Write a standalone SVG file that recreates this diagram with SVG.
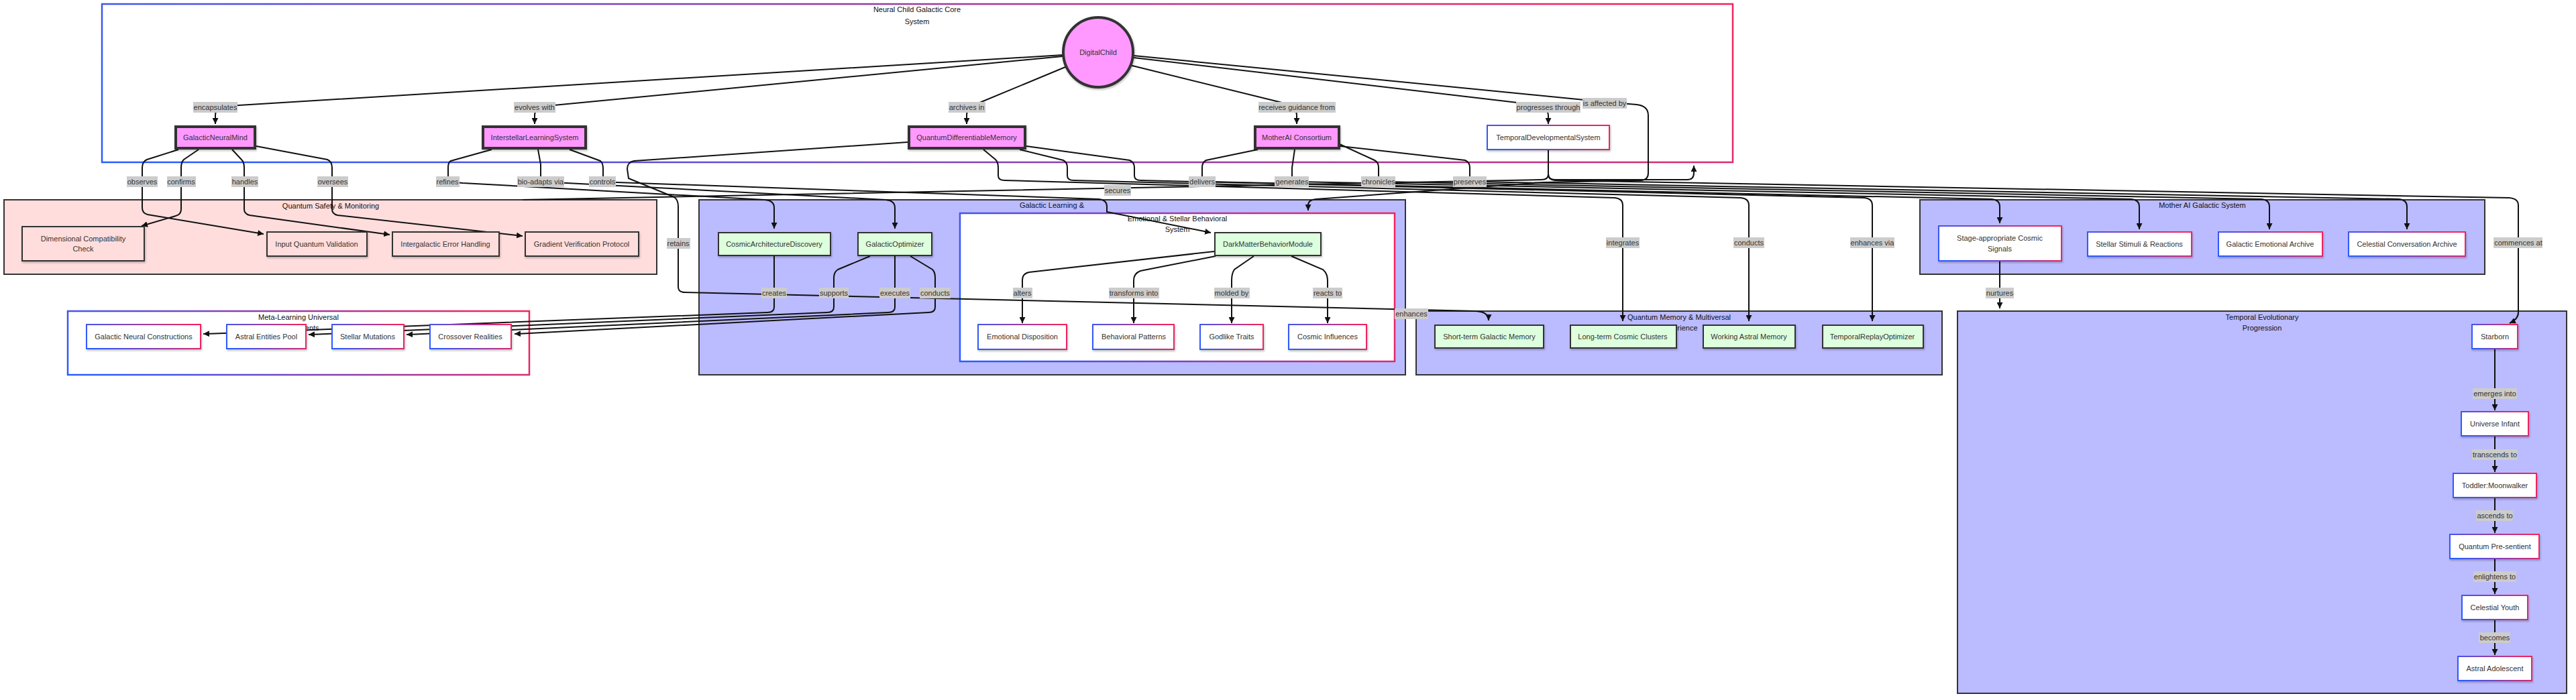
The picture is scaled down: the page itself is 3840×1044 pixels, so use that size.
<svg xmlns="http://www.w3.org/2000/svg" width="3840" height="1044" viewBox="0 0 3840 1044">
<defs>
<linearGradient id="g" x1="0" y1="0.6" x2="1" y2="0.4">
<stop offset="0" stop-color="#2c5cff"/>
<stop offset="0.5" stop-color="#8a3fb0"/>
<stop offset="1" stop-color="#f2245c"/>
</linearGradient>
<marker id="arr" viewBox="0 0 10 10" refX="10" refY="5" markerWidth="9" markerHeight="9" markerUnits="userSpaceOnUse" orient="auto">
<path d="M0,0 L10,5 L0,10 z" fill="#111"/>
</marker>
<filter id="sh" x="-10%" y="-10%" width="130%" height="150%">
<feDropShadow dx="1" dy="2" stdDeviation="1.5" flood-color="#000" flood-opacity="0.25"/>
</filter>
<style>
text { font-family: "Liberation Sans", Arial, sans-serif; font-size: 11px; fill: #333; }
.c { text-anchor: middle; dominant-baseline: central; }
.t { text-anchor: middle; dominant-baseline: central; fill: #111; }
.edge { fill: none; stroke: #111; stroke-width: 2; }
.ah { marker-end: url(#arr); }
.lbl rect { fill: #cccccc; }
.pink { fill: #ff99ff; stroke: #333; stroke-width: 4; filter: url(#sh); }
.green { fill: #ddffdd; stroke: #333; stroke-width: 2; filter: url(#sh); }
.safe { fill: #ffdddd; stroke: #333; stroke-width: 2; filter: url(#sh); }
.grad { fill: #fff; stroke: url(#g); stroke-width: 2; filter: url(#sh); }
.clg { fill: #fff; stroke: url(#g); stroke-width: 2.5; }
.clb { fill: #bbbbff; stroke: #333; stroke-width: 2; }
.clr { fill: #ffdddd; stroke: #333; stroke-width: 2; }
</style>
</defs>
<rect x="0" y="0" width="3840" height="1044" fill="#fff"/>

<g id="clusters">
<g id="cluster-core"><rect class="clg" x="152" y="6" width="2431" height="236"/><text class="t" x="1367" y="14">Neural Child Galactic Core</text><text class="t" x="1367" y="32">System</text></g>
<g id="cluster-safety"><rect class="clr" x="6" y="298" width="973" height="111"/><text class="t" x="493" y="307">Quantum Safety &amp; Monitoring</text></g>
<g id="cluster-meta"><rect class="clg" x="101" y="464" width="688" height="95"/><text class="t" x="445" y="473">Meta-Learning Universal</text><text class="t" x="445" y="489">Experiments</text></g>
<g id="cluster-learning"><rect class="clb" x="1042" y="298" width="1053" height="261"/><text class="t" x="1568" y="306">Galactic Learning &amp;</text></g>
<g id="cluster-emotional"><rect class="clg" x="1431" y="318" width="648" height="221"/><text class="t" x="1755" y="326">Emotional &amp; Stellar Behavioral</text><text class="t" x="1755" y="342">System</text></g>
<g id="cluster-memory"><rect class="clb" x="2111" y="464" width="784" height="95"/><text class="t" x="2503" y="473">Quantum Memory &amp; Multiversal</text><text class="t" x="2503" y="489">Experience</text></g>
<g id="cluster-mother"><rect class="clb" x="2862" y="298" width="842" height="111"/><text class="t" x="3283" y="306">Mother AI Galactic System</text></g>
<g id="cluster-temporal"><rect class="clb" x="2918" y="464" width="908" height="570"/><text class="t" x="3372" y="473">Temporal Evolutionary</text><text class="t" x="3372" y="489">Progression</text></g>
</g>

<g id="connectors">
<path class="edge ah" d="M1584,82 L340,158 Q321,159 321,172 L321,185"/>
<path class="edge ah" d="M1584,84 L815,158 Q797,160 797,172 L797,185"/>
<path class="edge ah" d="M1588,100 L1458,154 Q1441,160 1441,172 L1441,185"/>
<path class="edge ah" d="M1684,97 L1915,154 Q1933,160 1933,172 L1933,185"/>
<path class="edge ah" d="M1690,86 L2270,154 Q2308,158 2308,172 L2308,185"/>
<path class="edge ah" d="M1690,83 L2392,152 L2440,156 Q2457,158 2457,172 L2457,258 Q2457,268 2447,269 L2300,272 L1962,297 Q1950,298 1950,306 L1950,314"/>

<path class="edge ah" d="M266,223 L219,238 Q212,241 212,250 L212,310 Q212,318 220,320 L393,349"/>
<path class="edge ah" d="M296,223 L274,238 Q270,242 270,250 L270,312 Q270,320 262,322 L211,337"/>
<path class="edge ah" d="M346,223 L360,238 Q364,242 364,250 L364,312 Q364,319 372,321 L581,350"/>
<path class="edge ah" d="M382,218 L488,238 Q495,241 495,250 L495,312 Q495,319 503,321 L779,352"/>

<path class="edge ah" d="M733,223 L672,240 Q668,242 668,250 L668,271 L690,273 L1140,298 Q1154,299 1154,310 L1154,341"/>
<path class="edge ah" d="M802,223 L806,245 L806,271 L845,273 L1320,298 Q1334,299 1334,310 L1334,341"/>
<path class="edge ah" d="M849,223 L895,240 Q899,243 899,252 L899,271 L920,272 L1638,297 Q1650,298 1650,308 L1650,316 L1805,347"/>

<path class="edge ah" d="M1353,212 L945,240 Q935,242 935,252 L937,266 L1005,294 Q1011,298 1011,308 L1011,428 Q1011,436 1021,436 L2200,464 Q2219,465 2219,478"/>
<path class="edge ah" d="M1466,223 L1484,238 Q1488,242 1488,250 L1488,262 Q1488,269 1498,269 L2407,295 Q2419,296 2419,306 L2419,479"/>
<path class="edge ah" d="M1520,223 L1585,239 Q1591,242 1591,250 L1591,262 Q1591,269 1601,269 L2595,295 Q2607,296 2607,306 L2607,479"/>
<path class="edge ah" d="M1530,218 L1684,239 Q1691,242 1691,250 L1691,262 Q1691,269 1701,269 L2779,295 Q2791,296 2791,306 L2791,479"/>

<path class="edge ah" d="M1875,223 L1798,239 Q1792,242 1792,250 L1792,264 Q1792,271 1802,271 L2969,297 Q2981,298 2981,308 L2981,333"/>
<path class="edge ah" d="M1930,223 L1926,250 L1926,264 Q1926,271 1936,271 L3177,297 Q3189,298 3189,308 L3189,342"/>
<path class="edge ah" d="M1997,215 L2049,239 Q2055,242 2055,250 L2055,264 Q2055,271 2065,271 L3371,297 Q3383,298 3383,308 L3383,342"/>
<path class="edge ah" d="M1998,218 L2184,239 Q2191,242 2191,250 L2191,264 Q2191,271 2201,271 L3576,297 Q3588,298 3588,308 L3588,342"/>

<path class="edge ah" d="M2308,223 L2308,260 Q2308,268 2318,268 L2515,268 Q2525,268 2525,258 L2525,247"/>
<path class="edge ah" d="M2308,223 L2308,260 Q2308,268 2318,269 L3740,295 Q3754,296 3754,306 L3754,466 Q3754,476 3741,482"/>
<path class="edge" d="M2308,223 L2308,260 Q2308,268 2298,268 L779,298"/>
<path class="edge ah" d="M2981,389 L2981,460"/>

<path class="edge ah" d="M1154,382 L1154,458 Q1154,466 1144,466 L320,497.5 L303,498"/>
<path class="edge ah" d="M1297,382 L1249,402 Q1243,406 1243,414 L1243,458 Q1243,466 1233,466 L475,498.5 L460,499"/>
<path class="edge ah" d="M1334,382 L1334,458 Q1334,466 1324,466 L620,498.5 L606,499"/>
<path class="edge ah" d="M1357,382 L1390,402 Q1394,406 1394,414 L1394,458 Q1394,466 1384,466 L780,497.5 L767,498"/>

<path class="edge ah" d="M1810,375 L1534,406 Q1524,408 1524,418 L1524,482"/>
<path class="edge ah" d="M1812,382 L1700,404 Q1690,408 1690,418 L1690,482"/>
<path class="edge ah" d="M1869,382 L1840,402 Q1836,408 1836,418 L1836,482"/>
<path class="edge ah" d="M1925,382 L1972,402 Q1979,408 1979,418 L1979,482"/>

<path class="edge ah" d="M3719,520 L3719,612"/>
<path class="edge ah" d="M3719,650 L3719,704"/>
<path class="edge ah" d="M3719,742 L3719,795"/>
<path class="edge ah" d="M3719,833 L3719,886"/>
<path class="edge ah" d="M3719,924 L3719,977"/>

<g id="edge-labels" class="lbl">
<g><rect x="288" y="152" width="66" height="16"/><text class="c" x="321" y="160">encapsulates</text></g>
<g><rect x="766" y="152" width="62" height="16"/><text class="c" x="797" y="160">evolves with</text></g>
<g><rect x="1414" y="152" width="55" height="16"/><text class="c" x="1441" y="160">archives in</text></g>
<g><rect x="1876" y="152" width="115" height="16"/><text class="c" x="1933" y="160">receives guidance from</text></g>
<g><rect x="2260" y="152" width="96" height="16"/><text class="c" x="2308" y="160">progresses through</text></g>
<g><rect x="2359" y="146" width="66" height="16"/><text class="c" x="2392" y="154">is affected by</text></g>
<g><rect x="189" y="263" width="46" height="16"/><text class="c" x="212" y="271">observes</text></g>
<g><rect x="249" y="263" width="43" height="16"/><text class="c" x="270" y="271">confirms</text></g>
<g><rect x="345" y="263" width="40" height="16"/><text class="c" x="365" y="271">handles</text></g>
<g><rect x="473" y="263" width="46" height="16"/><text class="c" x="496" y="271">oversees</text></g>
<g><rect x="650" y="263" width="35" height="16"/><text class="c" x="667" y="271">refines</text></g>
<g><rect x="771" y="263" width="70" height="16"/><text class="c" x="806" y="271">bio-adapts via</text></g>
<g><rect x="878" y="263" width="40" height="16"/><text class="c" x="898" y="271">controls</text></g>
<g><rect x="1772" y="263" width="40" height="16"/><text class="c" x="1792" y="271">delivers</text></g>
<g><rect x="1900" y="263" width="51" height="16"/><text class="c" x="1926" y="271">generates</text></g>
<g><rect x="2029" y="263" width="51" height="16"/><text class="c" x="2055" y="271">chronicles</text></g>
<g><rect x="2166" y="263" width="50" height="16"/><text class="c" x="2191" y="271">preserves</text></g>
<g><rect x="1646" y="276" width="40" height="16"/><text class="c" x="1666" y="284">secures</text></g>
<g><rect x="994" y="355" width="35" height="16"/><text class="c" x="1011" y="363">retains</text></g>
<g><rect x="2394" y="354" width="50" height="16"/><text class="c" x="2419" y="362">integrates</text></g>
<g><rect x="2584" y="354" width="46" height="16"/><text class="c" x="2607" y="362">conducts</text></g>
<g><rect x="2758" y="354" width="66" height="16"/><text class="c" x="2791" y="362">enhances via</text></g>
<g><rect x="3717" y="354" width="73" height="16"/><text class="c" x="3754" y="362">commences at</text></g>
<g><rect x="1135" y="429" width="38" height="16"/><text class="c" x="1154" y="437">creates</text></g>
<g><rect x="1221" y="429" width="44" height="16"/><text class="c" x="1243" y="437">supports</text></g>
<g><rect x="1311" y="429" width="46" height="16"/><text class="c" x="1334" y="437">executes</text></g>
<g><rect x="1371" y="429" width="46" height="16"/><text class="c" x="1394" y="437">conducts</text></g>
<g><rect x="1510" y="429" width="29" height="16"/><text class="c" x="1524" y="437">alters</text></g>
<g><rect x="1653" y="429" width="75" height="16"/><text class="c" x="1690" y="437">transforms into</text></g>
<g><rect x="1810" y="429" width="53" height="16"/><text class="c" x="1836" y="437">molded by</text></g>
<g><rect x="1957" y="429" width="44" height="16"/><text class="c" x="1979" y="437">reacts to</text></g>
<g><rect x="2079" y="460" width="50" height="16"/><text class="c" x="2104" y="468">enhances</text></g>
<g><rect x="2960" y="429" width="42" height="16"/><text class="c" x="2981" y="437">nurtures</text></g>
<g><rect x="3686" y="579" width="66" height="16"/><text class="c" x="3719" y="587">emerges into</text></g>
<g><rect x="3685" y="670" width="68" height="16"/><text class="c" x="3719" y="678">transcends to</text></g>
<g><rect x="3691" y="761" width="55" height="16"/><text class="c" x="3719" y="769">ascends to</text></g>
<g><rect x="3687" y="852" width="64" height="16"/><text class="c" x="3719" y="860">enlightens to</text></g>
<g><rect x="3695" y="943" width="47" height="16"/><text class="c" x="3719" y="951">becomes</text></g>
</g>
</g>

<g id="nodes">
<g id="DigitalChild"><circle class="pink" cx="1637" cy="78" r="52"/><text class="c" x="1637" y="78">DigitalChild</text></g>
<g id="GalacticNeuralMind"><rect class="pink" x="262" y="189" width="118" height="32"/><text class="c" x="321" y="205">GalacticNeuralMind</text></g>
<g id="InterstellarLearningSystem"><rect class="pink" x="720" y="189" width="153" height="32"/><text class="c" x="797" y="205">InterstellarLearningSystem</text></g>
<g id="QuantumDifferentiableMemory"><rect class="pink" x="1355" y="189" width="173" height="32"/><text class="c" x="1441" y="205">QuantumDifferentiableMemory</text></g>
<g id="MotherAI"><rect class="pink" x="1871" y="189" width="125" height="32"/><text class="c" x="1933" y="205">MotherAI Consortium</text></g>
<g id="TemporalDevelopmentalSystem"><rect class="grad" x="2217" y="187" width="182" height="36"/><text class="c" x="2308" y="205">TemporalDevelopmentalSystem</text></g>

<g id="DimensionalCheck"><rect class="safe" x="33" y="338" width="182" height="51"/><text class="c" x="124" y="356">Dimensional Compatibility</text><text class="c" x="124" y="371">Check</text></g>
<g id="InputValidation"><rect class="safe" x="398" y="346" width="149" height="36"/><text class="c" x="472" y="364">Input Quantum Validation</text></g>
<g id="ErrorHandling"><rect class="safe" x="585" y="346" width="159" height="36"/><text class="c" x="664" y="364">Intergalactic Error Handling</text></g>
<g id="GradientVerification"><rect class="safe" x="783" y="346" width="169" height="36"/><text class="c" x="867" y="364">Gradient Verification Protocol</text></g>

<g id="GalacticNeuralConstructions"><rect class="grad" x="129" y="484" width="170" height="36"/><text class="c" x="214" y="502">Galactic Neural Constructions</text></g>
<g id="AstralEntitiesPool"><rect class="grad" x="338" y="484" width="118" height="36"/><text class="c" x="397" y="502">Astral Entities Pool</text></g>
<g id="StellarMutations"><rect class="grad" x="495" y="484" width="107" height="36"/><text class="c" x="548" y="502">Stellar Mutations</text></g>
<g id="CrossoverRealities"><rect class="grad" x="641" y="484" width="121" height="36"/><text class="c" x="701" y="502">Crossover Realities</text></g>

<g id="CosmicArchitectureDiscovery"><rect class="green" x="1071" y="347" width="167" height="34"/><text class="c" x="1154" y="364">CosmicArchitectureDiscovery</text></g>
<g id="GalacticOptimizer"><rect class="green" x="1279" y="347" width="110" height="34"/><text class="c" x="1334" y="364">GalacticOptimizer</text></g>
<g id="DarkMatterBehaviorModule"><rect class="green" x="1811" y="347" width="158" height="34"/><text class="c" x="1890" y="364">DarkMatterBehaviorModule</text></g>
<g id="EmotionalDisposition"><rect class="grad" x="1458" y="484" width="132" height="37"/><text class="c" x="1524" y="502">Emotional Disposition</text></g>
<g id="BehavioralPatterns"><rect class="grad" x="1629" y="484" width="121" height="37"/><text class="c" x="1690" y="502">Behavioral Patterns</text></g>
<g id="GodlikeTraits"><rect class="grad" x="1789" y="484" width="94" height="37"/><text class="c" x="1836" y="502">Godlike Traits</text></g>
<g id="CosmicInfluences"><rect class="grad" x="1921" y="484" width="116" height="37"/><text class="c" x="1979" y="502">Cosmic Influences</text></g>

<g id="ShortTermMemory"><rect class="green" x="2139" y="485" width="162" height="34"/><text class="c" x="2220" y="502">Short-term Galactic Memory</text></g>
<g id="LongTermClusters"><rect class="green" x="2341" y="485" width="158" height="34"/><text class="c" x="2419" y="502">Long-term Cosmic Clusters</text></g>
<g id="WorkingAstralMemory"><rect class="green" x="2539" y="485" width="137" height="34"/><text class="c" x="2607" y="502">Working Astral Memory</text></g>
<g id="TemporalReplayOptimizer"><rect class="green" x="2717" y="485" width="150" height="34"/><text class="c" x="2791" y="502">TemporalReplayOptimizer</text></g>

<g id="StageSignals"><rect class="grad" x="2890" y="337" width="183" height="52"/><text class="c" x="2981" y="355">Stage-appropriate Cosmic</text><text class="c" x="2981" y="371">Signals</text></g>
<g id="StellarStimuli"><rect class="grad" x="3112" y="346" width="155" height="36"/><text class="c" x="3189" y="364">Stellar Stimuli &amp; Reactions</text></g>
<g id="GalacticEmotionalArchive"><rect class="grad" x="3307" y="346" width="155" height="36"/><text class="c" x="3384" y="364">Galactic Emotional Archive</text></g>
<g id="CelestialConversationArchive"><rect class="grad" x="3501" y="346" width="174" height="36"/><text class="c" x="3588" y="364">Celestial Conversation Archive</text></g>

<g id="Starborn"><rect class="grad" x="3685" y="484" width="68" height="36"/><text class="c" x="3719" y="502">Starborn</text></g>
<g id="UniverseInfant"><rect class="grad" x="3669" y="614" width="100" height="36"/><text class="c" x="3719" y="632">Universe Infant</text></g>
<g id="ToddlerMoonwalker"><rect class="grad" x="3657" y="706" width="124" height="36"/><text class="c" x="3719" y="724">Toddler:Moonwalker</text></g>
<g id="QuantumPresentient"><rect class="grad" x="3652" y="797" width="133" height="36"/><text class="c" x="3719" y="815">Quantum Pre-sentient</text></g>
<g id="CelestialYouth"><rect class="grad" x="3670" y="888" width="98" height="36"/><text class="c" x="3719" y="906">Celestial Youth</text></g>
<g id="AstralAdolescent"><rect class="grad" x="3664" y="979" width="110" height="36"/><text class="c" x="3719" y="997">Astral Adolescent</text></g>
</g>
</svg>
